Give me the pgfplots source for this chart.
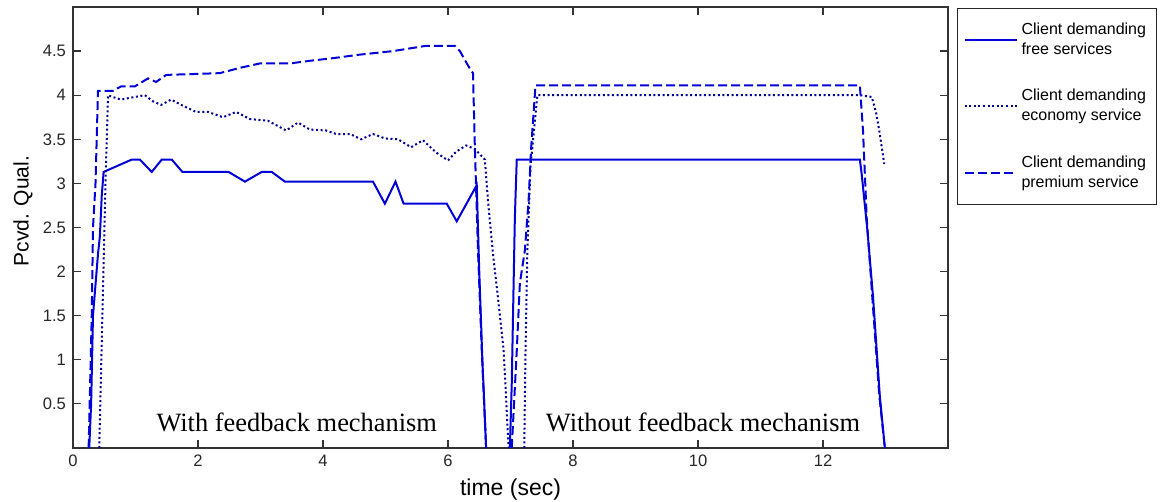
\documentclass[border=0pt]{standalone}
\usepackage{fontspec}
\setmainfont{Liberation Sans}
\newfontfamily\timesfont{Liberation Serif}
\usepackage{pgfplots}
\pgfplotsset{compat=1.18}
\definecolor{mblue}{RGB}{0,0,215}
\begin{document}
\begin{tikzpicture}
\path[use as bounding box] (-36.5pt,-27pt) rectangle (545.5pt,224pt);
\begin{axis}[
  scale only axis, width=437.5pt, height=220.5pt,
  xmin=0, xmax=14, ymin=0, ymax=5,
  xtick={0,2,...,12}, ytick={0.5,1,1.5,2,2.5,3,3.5,4,4.5},
  tick align=inside, major tick length=4pt,
  xtick pos=both, ytick pos=both,
  xticklabel pos=lower, yticklabel pos=left,
  axis line style={black!80, line width=0.6pt},
  every tick/.style={black!80, line width=0.6pt},
  /pgf/number format/assume math mode=true,
  ticklabel style={font=\fontsize{8.3}{10}\selectfont, text=black!85},
  xlabel={time (sec)}, ylabel={Pcvd. Qual.},
  xlabel style={font=\fontsize{11.5}{13}\selectfont, at={(rel axis cs:0.5,-0.095)}, anchor=center},
  ylabel style={font=\fontsize{10.5}{12}\selectfont, at={(rel axis cs:-0.0571,0.537)}, anchor=center},
  legend style={at={(rel axis cs:1.0103,0.9977)}, anchor=north west,
    draw=black!85, line width=0.5pt, inner xsep=3pt, inner ysep=5pt,
    row sep=12pt, font=\fontsize{8}{10}\selectfont,
    nodes={inner xsep=2pt}, cells={align=left}},
  legend image code/.code={\draw[#1] (0pt,0pt) -- (26pt,0pt);},
]
% free services
\addplot[mblue, line width=1pt] coordinates {
(0.26,0) (0.29,0.5) (0.32,1.5) (0.40,2.2) (0.43,2.4) (0.46,2.86) (0.49,3.13)
(0.94,3.27) (1.07,3.27) (1.26,3.13) (1.42,3.27) (1.58,3.27) (1.75,3.13)
(2.49,3.13) (2.75,3.02) (3.02,3.13) (3.18,3.13) (3.39,3.02) (4.80,3.02)
(4.99,2.77) (5.16,3.02) (5.29,2.77) (5.98,2.77) (6.14,2.57) (6.46,2.98)
(6.50,2.0) (6.55,1.0) (6.61,0)};
\addlegendentry{Client demanding\\free services}
% economy
\addplot[mblue!70!black, line width=1pt, dash pattern=on 1pt off 1.3pt] coordinates {
(0.42,0) (0.47,1.5) (0.52,3.0) (0.56,4.0) (0.59,3.99) (0.77,3.95) (0.91,3.97)
(1.15,4.0) (1.28,3.93) (1.41,3.89) (1.57,3.95) (1.76,3.88) (1.97,3.81) (2.16,3.81)
(2.40,3.75) (2.61,3.81) (2.83,3.73) (3.12,3.71) (3.41,3.60) (3.60,3.69) (3.79,3.61)
(4.05,3.60) (4.21,3.56) (4.43,3.56) (4.61,3.50) (4.80,3.56) (4.99,3.51) (5.20,3.50)
(5.41,3.41) (5.60,3.49) (5.81,3.35) (6.00,3.26) (6.13,3.36) (6.29,3.43) (6.43,3.39)
(6.59,3.27) (6.64,2.8) (6.72,2.2) (6.80,1.7) (6.89,1.11) (6.97,0)};
\addlegendentry{Client demanding\\economy service}
% premium
\addplot[mblue, line width=1pt, dash pattern=on 4.5pt off 2pt] coordinates {
(0.25,0) (0.30,1.5) (0.32,2.5) (0.36,3.0) (0.40,4.05) (0.64,4.05) (0.77,4.10)
(0.99,4.10) (1.20,4.19) (1.33,4.15) (1.49,4.23) (2.35,4.25) (2.67,4.31) (2.99,4.36)
(3.47,4.36) (3.79,4.39) (4.16,4.42) (4.59,4.46) (5.12,4.5) (5.65,4.56) (6.11,4.56)
(6.19,4.5) (6.27,4.4) (6.35,4.3) (6.40,4.25) (6.43,3.4) (6.48,2.24) (6.54,1.11) (6.61,0)};
\addlegendentry{Client demanding\\premium service}
% second phase
\addplot[mblue, line width=1pt, forget plot] coordinates {
(6.99,0) (7.02,0.73) (7.05,1.87) (7.07,2.62) (7.10,3.27) (12.59,3.27) (12.62,3.1)
(12.71,2.47) (12.8,1.72) (12.91,0.58) (12.99,0)};
\addplot[mblue!70!black, line width=1pt, dash pattern=on 1pt off 1.3pt, forget plot] coordinates {
(7.22,0) (7.24,1.1) (7.27,2.24) (7.32,3.19) (7.43,4.0) (12.59,4.0) (12.78,3.98)
(12.85,3.8) (12.9,3.6) (12.98,3.22)};
\addplot[mblue, line width=1pt, dash pattern=on 4.5pt off 2pt, forget plot] coordinates {
(7.02,0) (7.1,1.1) (7.15,1.87) (7.23,2.24) (7.29,2.81) (7.33,3.4) (7.40,4.11)
(12.59,4.11) (12.64,3.6) (12.7,2.6) (12.8,1.6) (12.9,0.6) (12.99,0)};
\node[font=\timesfont\fontsize{13.2}{15}\selectfont, anchor=base] at (axis cs:3.58,0.19) {With feedback mechanism};
\node[font=\timesfont\fontsize{13.2}{15}\selectfont, anchor=base] at (axis cs:10.08,0.19) {Without feedback mechanism};
\end{axis}
\end{tikzpicture}
\end{document}
